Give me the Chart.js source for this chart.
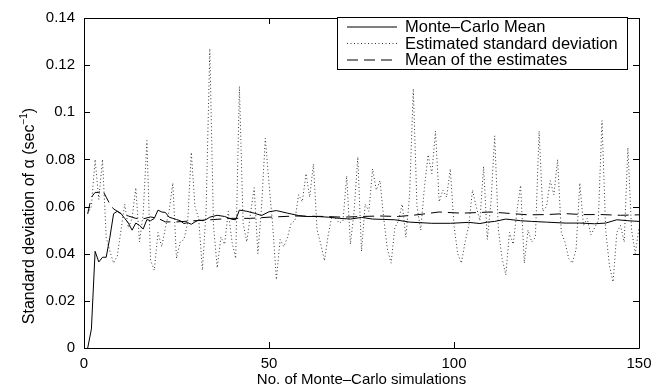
<!DOCTYPE html>
<html><head><meta charset="utf-8">
<script src="https://cdn.jsdelivr.net/npm/chart.js@4.4.0/dist/chart.umd.min.js"></script>
<style>html,body{margin:0;padding:0;background:#fff;overflow:hidden}</style>
</head><body>
<canvas id="c" width="667" height="390" style="width:667px;height:390px;display:block"></canvas>
<script>
const mcX = [1,2,3,4,5,6,7,8,9,10,11,12,13,14,15,16,17,18,19,20,21,22,23,24,25,26,27,28,29,30,31,32,33,34,36,38,40,41,42,44,46,48,50,52,55,58,60,63,66,69,72,75,78,84,88,94,99,104,107,109,111,114,118,121,125,130,134,138,141,144,147,150];
const mcY = [0,0.008,0.041,0.0365,0.0385,0.0385,0.047,0.057,0.058,0.057,
  0.055,0.053,0.050,0.053,0.052,0.0505,0.0545,0.054,0.055,0.0585,
  0.0577,0.0575,0.0555,0.055,0.0545,0.054,0.0528,0.0532,0.0525,0.0535,
  0.0543,0.054,0.0545,0.0555,
  0.0563,0.0558,0.0546,0.0544,0.0585,0.058,0.0572,0.0562,0.0578,0.0583,
  0.0572,0.0562,0.0558,0.0558,0.0555,0.055,0.0547,0.0554,0.0547,0.0544,
  0.0534,0.0529,0.0529,0.0533,0.0528,0.0534,0.0537,0.0547,0.054,0.0537,
  0.0534,0.053,0.053,0.0527,0.053,0.0544,0.054,0.0537];

const estY = [0.057,0.060,0.080,0.063,0.080,0.047,0.041,0.036,0.039,0.050,
  0.061,0.051,0.055,0.068,0.045,0.057,0.088,0.037,0.033,0.049,
  0.043,0.051,0.058,0.070,0.038,0.045,0.046,0.053,0.083,0.060,
  0.055,0.033,0.058,0.127,0.052,0.034,0.047,0.044,0.058,0.045,
  0.038,0.111,0.053,0.045,0.057,0.068,0.040,0.060,0.089,0.070,
  0.052,0.029,0.046,0.043,0.047,0.053,0.054,0.065,0.062,0.074,
  0.064,0.078,0.050,0.044,0.037,0.048,0.056,0.055,0.053,0.054,
  0.073,0.044,0.058,0.081,0.041,0.061,0.058,0.076,0.067,0.071,
  0.055,0.042,0.036,0.051,0.054,0.061,0.047,0.065,0.110,0.060,
  0.050,0.068,0.082,0.074,0.092,0.062,0.067,0.064,0.076,0.052,
  0.040,0.036,0.045,0.052,0.067,0.060,0.054,0.077,0.046,0.062,
  0.090,0.050,0.038,0.031,0.049,0.044,0.058,0.069,0.036,0.050,
  0.045,0.047,0.092,0.058,0.060,0.071,0.065,0.080,0.049,0.045,
  0.038,0.036,0.042,0.070,0.052,0.055,0.048,0.051,0.054,0.0965,
  0.050,0.035,0.028,0.049,0.052,0.045,0.085,0.050,0.040,0.051];

const meanX = [1,2,3,4,5,6,7,8,9,10,12,14,16,18,20,22,25,30,35,40,45,50,57,65,70,75,80,85,90,96,102,107,110,115,120,125,130,135,140,145,150];
const meanY = [0.057,0.064,0.066,0.066,0.067,0.064,0.061,0.059,0.058,0.057,
  0.056,0.055,0.0548,0.0556,0.055,0.0535,0.0535,0.054,0.0545,0.055,
  0.055,0.0555,0.056,0.0558,0.0555,0.0558,0.056,0.0558,0.0565,0.0577,
  0.0572,0.0575,0.0577,0.0571,0.0565,0.0566,0.057,0.0566,0.0566,0.0563,0.0565];

const xTicks = [0,50,100,150];
const yTicks = [0,0.02,0.04,0.06,0.08,0.1,0.12,0.14];
const yTickLabels = ['0','0.02','0.04','0.06','0.08','0.1','0.12','0.14'];
const seriesLabels = ['Monte\u2013Carlo Mean','Estimated standard deviation','Mean of the estimates'];
const xTitle = 'No. of Monte\u2013Carlo simulations';
const yTitle = 'Standard deviation of \u03b1 (sec';

const FONT = '"Liberation Sans", Arial, Helvetica, sans-serif';

const styles = [
  {borderDash: [], color: '#000'},
  {borderDash: [1, 2.5], color: '#333'},
  {borderDash: [11, 6], color: '#000'}
];

const framePlugin = {
  id: 'frame',
  afterDraw(chart) {
    const ctx = chart.ctx, a = chart.chartArea;
    const xs = chart.scales.x, ys = chart.scales.y;
    ctx.save();
    ctx.strokeStyle = '#000';
    ctx.lineWidth = 1;
    ctx.beginPath();
    ctx.rect(Math.round(a.left) + 0.5, Math.round(a.top) + 0.5, Math.round(a.right - a.left), Math.round(a.bottom - a.top));
    ctx.stroke();
    const L = 6;
    ctx.beginPath();
    xTicks.forEach(v => {
      const px = Math.round(xs.getPixelForValue(v)) + 0.5;
      ctx.moveTo(px, a.bottom); ctx.lineTo(px, a.bottom - L);
      ctx.moveTo(px, a.top); ctx.lineTo(px, a.top + L);
    });
    yTicks.forEach(v => {
      const py = Math.round(ys.getPixelForValue(v)) + 0.5;
      ctx.moveTo(a.left, py); ctx.lineTo(a.left + L, py);
      ctx.moveTo(a.right, py); ctx.lineTo(a.right - L, py);
    });
    ctx.stroke();

    // y title
    ctx.fillStyle = '#000';
    ctx.translate(34, 216);
    ctx.rotate(-Math.PI / 2);
    ctx.font = '16px ' + FONT;
    ctx.textBaseline = 'alphabetic';
    const w1 = ctx.measureText(yTitle).width;
    ctx.font = '10px ' + FONT;
    const w2 = ctx.measureText('\u22121').width;
    ctx.font = '16px ' + FONT;
    const w3 = ctx.measureText(')').width;
    const total = w1 + w2 + w3;
    let x0 = -total / 2;
    ctx.textAlign = 'left';
    ctx.fillText(yTitle, x0, 0);
    ctx.font = '10px ' + FONT;
    ctx.fillText('\u22121', x0 + w1, -7);
    ctx.font = '16px ' + FONT;
    ctx.fillText(')', x0 + w1 + w2, 0);
    ctx.restore();

    // legend
    const bx = 337.5, by = 17.5, bw = 290, bh = 52;
    ctx.save();
    ctx.fillStyle = '#fff';
    ctx.fillRect(bx, by, bw, bh);
    ctx.strokeStyle = '#000';
    ctx.lineWidth = 1;
    ctx.strokeRect(bx, by, bw, bh);
    const rows = [26.5, 43, 59.5];
    chart.data.datasets.forEach((ds, i) => {
      ctx.strokeStyle = ds.borderColor;
      ctx.setLineDash(ds.borderDash || []);
      ctx.beginPath();
      ctx.moveTo(347, rows[i] + 0.5);
      ctx.lineTo(397, rows[i] + 0.5);
      ctx.stroke();
      ctx.setLineDash([]);
      ctx.fillStyle = '#000';
      ctx.font = '16.5px ' + FONT;
      ctx.textBaseline = 'middle';
      ctx.textAlign = 'left';
      ctx.fillText(ds.label, 405, rows[i] + 1);
    });
    ctx.restore();
  }
};

const ds = [
  {label: seriesLabels[0], data: mcX.map((x, i) => ({x, y: mcY[i]}))},
  {label: seriesLabels[1], data: estY.map((y, i) => ({x: i + 1, y}))},
  {label: seriesLabels[2], data: meanX.map((x, i) => ({x, y: meanY[i]}))}
].map((d, i) => Object.assign(d, {
  borderColor: styles[i].color, borderWidth: 1, pointRadius: 0, tension: 0, fill: false,
  borderDash: styles[i].borderDash
}));

new Chart(document.getElementById('c'), {
  type: 'line',
  data: {datasets: ds},
  options: {
    responsive: false, animation: false, devicePixelRatio: 1,
    layout: {padding: {left: 0, top: 10, right: 28, bottom: 0}},
    plugins: {legend: {display: false}, tooltip: {enabled: false}},
    scales: {
      x: {
        type: 'linear', min: 0, max: 150,
        afterBuildTicks: s => { s.ticks = xTicks.map(v => ({value: v})); },
        afterFit: s => { s.height = 42; },
        grid: {display: false, drawTicks: false},
        border: {display: false},
        ticks: {color: '#000', padding: 7, maxRotation: 0, font: {family: FONT, size: 15}},
        title: {display: true, text: xTitle, color: '#000', font: {family: FONT, size: 15}, padding: {top: 0, bottom: 1}}
      },
      y: {
        type: 'linear', min: 0, max: 0.14,
        afterBuildTicks: s => { s.ticks = yTicks.map(v => ({value: v})); },
        afterFit: s => { s.width = 84; },
        grid: {display: false, drawTicks: false},
        border: {display: false},
        ticks: {color: '#000', padding: 9, font: {family: FONT, size: 15},
          callback: (v) => { const i = yTicks.findIndex(t => Math.abs(t - v) < 1e-9); return i >= 0 ? yTickLabels[i] : ''; }}
      }
    }
  },
  plugins: [framePlugin]
});
</script>
</body></html>
